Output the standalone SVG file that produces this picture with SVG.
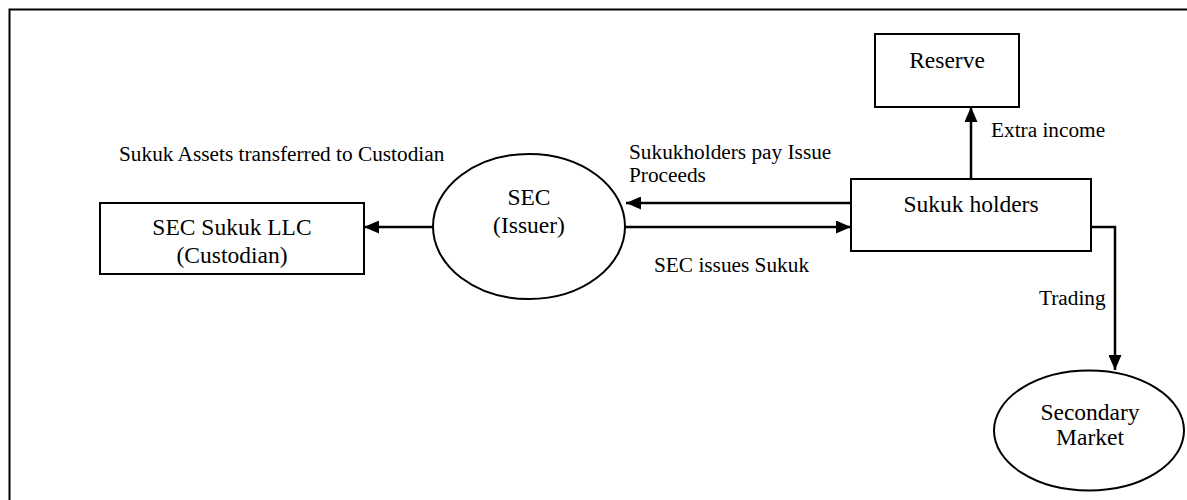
<svg xmlns="http://www.w3.org/2000/svg" width="1187" height="500" viewBox="0 0 1187 500">
  <style>
    .node { fill: #fff; stroke: #000; stroke-width: 2; }
    .nt { font-family: 'Liberation Serif', 'Times New Roman', Times, 'DejaVu Serif', serif; font-size: 23.5px; fill: #000; text-anchor: middle; }
    .lbl { font-family: 'Liberation Serif', 'Times New Roman', Times, 'DejaVu Serif', serif; font-size: 21.3px; fill: #000; }
    .conn { fill: none; stroke: #000; stroke-width: 2.5; }
  </style>
  <defs>
    <marker id="arrow" markerUnits="userSpaceOnUse" markerWidth="16" markerHeight="13" refX="15" refY="6.5" orient="auto">
      <path d="M0,0 L15,6.5 L0,13 z" fill="#000"/>
    </marker>
  </defs>
  <rect width="1187" height="500" fill="#fff"/>
  <path d="M9.5,500 V9.5 H1187" fill="none" stroke="#000" stroke-width="2"/>

  <g id="connectors">
    <line class="conn" x1="433" y1="227" x2="364" y2="227" marker-end="url(#arrow)"/>
    <line class="conn" x1="851" y1="203" x2="626" y2="203" marker-end="url(#arrow)"/>
    <line class="conn" x1="625" y1="227" x2="851" y2="227" marker-end="url(#arrow)"/>
    <line class="conn" x1="971" y1="179" x2="971" y2="107" marker-end="url(#arrow)"/>
    <path class="conn" d="M1091,227 H1115 V370" marker-end="url(#arrow)"/>
    <text class="lbl" x="119" y="161">Sukuk Assets transferred to Custodian</text>
    <text class="lbl" x="629" y="159">Sukukholders pay Issue</text>
    <text class="lbl" x="629" y="182">Proceeds</text>
    <text class="lbl" x="654" y="272">SEC issues Sukuk</text>
    <text class="lbl" x="991" y="137">Extra income</text>
    <text class="lbl" x="1039" y="305">Trading</text>
  </g>

  <g id="custodian">
    <rect class="node" x="100" y="203" width="264" height="71"/>
    <text class="nt" x="232" y="235">SEC Sukuk LLC</text>
    <text class="nt" x="232" y="263">(Custodian)</text>
  </g>

  <g id="issuer">
    <ellipse class="node" cx="529" cy="226.5" rx="96" ry="72.5"/>
    <text class="nt" x="529" y="205">SEC</text>
    <text class="nt" x="529" y="233">(Issuer)</text>
  </g>

  <g id="sukuk-holders">
    <rect class="node" x="851" y="179" width="240" height="72"/>
    <text class="nt" x="971" y="212">Sukuk holders</text>
  </g>

  <g id="reserve">
    <rect class="node" x="875" y="34" width="144" height="73"/>
    <text class="nt" x="947" y="68">Reserve</text>
  </g>

  <g id="secondary-market">
    <ellipse class="node" cx="1089" cy="430.5" rx="95" ry="60"/>
    <text class="nt" x="1090" y="420">Secondary</text>
    <text class="nt" x="1090" y="445">Market</text>
  </g>
</svg>
